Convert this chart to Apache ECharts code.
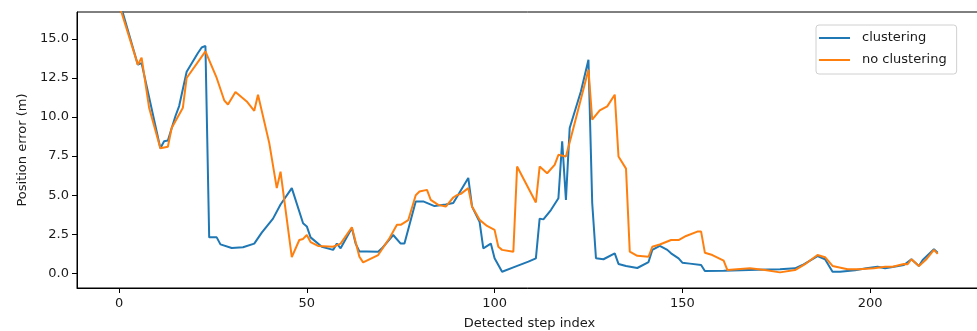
<!DOCTYPE html>
<html>
<head>
<meta charset="utf-8">
<script src="https://cdn.jsdelivr.net/npm/echarts@6/dist/echarts.min.js"></script>
<style>
  html, body { margin: 0; padding: 0; background: #fff; }
  #main { width: 977px; height: 331px; }
</style>
</head>
<body>
<div id="main"></div>
<script>
// step index / position error (m) at the line's corners
var clusterSteps = [0, 5, 6, 11, 12, 13, 15, 16, 18, 21, 22, 23, 24, 26, 27, 30, 33, 36, 38, 41, 43, 46, 49, 50, 51, 54, 57, 58, 59, 62, 63, 64, 66, 69, 70, 73, 75, 76, 79, 81, 84, 87, 89, 93, 94, 96, 97, 99, 100, 102, 105, 109, 111, 112, 113, 115, 117, 118, 119, 120, 123, 125, 126, 127, 129, 132, 133, 135, 138, 141, 142, 144, 146, 147, 149, 150, 152, 155, 156, 161, 170, 176, 180, 182, 186, 188, 190, 192, 196, 199, 202, 204, 206, 209, 211, 213, 214, 217, 218];
var clusterErr = [17.5, 13.35, 13.45, 8.0, 8.45, 8.5, 10.05, 10.7, 12.9, 14.1, 14.45, 14.55, 2.3, 2.3, 1.85, 1.62, 1.67, 1.9, 2.6, 3.5, 4.4, 5.45, 3.2, 3.0, 2.3, 1.7, 1.5, 1.9, 1.6, 2.9, 1.9, 1.4, 1.4, 1.38, 1.6, 2.45, 1.9, 1.9, 4.6, 4.6, 4.3, 4.4, 4.5, 6.1, 4.27, 3.3, 1.6, 1.9, 0.96, 0.1, 0.38, 0.75, 0.96, 3.5, 3.45, 4.05, 4.8, 8.44, 4.7, 9.3, 11.65, 13.67, 4.5, 0.96, 0.9, 1.28, 0.6, 0.47, 0.34, 0.72, 1.5, 1.75, 1.5, 1.28, 0.96, 0.68, 0.62, 0.53, 0.15, 0.17, 0.22, 0.26, 0.32, 0.53, 1.1, 0.9, 0.1, 0.1, 0.2, 0.32, 0.42, 0.32, 0.4, 0.53, 0.9, 0.47, 0.85, 1.54, 1.32];

var noClusterSteps = [0, 5, 6, 8, 11, 13, 14, 17, 18, 23, 26, 28, 29, 31, 34, 36, 37, 40, 42, 43, 46, 48, 49, 50, 51, 53, 57, 59, 62, 64, 65, 69, 72, 74, 75, 77, 79, 80, 82, 83, 85, 87, 89, 90, 91, 93, 94, 96, 98, 100, 101, 102, 105, 106, 111, 112, 114, 116, 117, 119, 121, 125, 126, 128, 130, 132, 133, 135, 136, 138, 141, 142, 144, 147, 149, 151, 154, 155, 156, 158, 161, 162, 168, 172, 176, 180, 183, 186, 188, 190, 194, 197, 201, 204, 206, 209, 210, 211, 213, 215, 217, 218];
var noClusterErr = [17.2, 13.35, 13.8, 10.6, 8.0, 8.1, 9.3, 10.6, 12.5, 14.2, 12.5, 11.07, 10.8, 11.6, 11.0, 10.4, 11.43, 8.33, 5.45, 6.5, 1.03, 2.13, 2.2, 2.45, 2.0, 1.75, 1.7, 1.9, 2.95, 1.06, 0.7, 1.17, 2.24, 3.1, 3.1, 3.4, 5.0, 5.23, 5.34, 4.7, 4.38, 4.27, 4.85, 5.0, 5.08, 5.45, 4.27, 3.42, 3.03, 2.78, 1.7, 1.5, 1.38, 6.83, 4.53, 6.83, 6.4, 6.94, 7.58, 7.47, 9.3, 13.03, 9.83, 10.42, 10.68, 11.43, 7.47, 6.7, 1.38, 1.12, 1.06, 1.7, 1.84, 2.13, 2.13, 2.39, 2.67, 2.67, 1.32, 1.17, 0.81, 0.21, 0.32, 0.21, 0.06, 0.21, 0.64, 1.17, 1.03, 0.47, 0.26, 0.26, 0.32, 0.42, 0.42, 0.6, 0.58, 0.9, 0.47, 0.9, 1.5, 1.24];

var xTicks = [0, 50, 100, 150, 200];
var yTicks = [0, 2.5, 5, 7.5, 10, 12.5, 15];

function pairs(xs, ys) {
    var out = [];
    for (var i = 0; i < xs.length; i++) {
        out.push([xs[i], ys[i]]);
    }
    return out;
}

var myChart = echarts.init(document.getElementById('main'));
var fontFamily = 'DejaVu Sans';
var textColor = '#1a1a1a';

var option = {
    backgroundColor: '#ffffff',
    animation: false,
    textStyle: { fontFamily: fontFamily },
    grid: {
        left: 77,
        top: 12,
        width: 905,
        height: 276,
        outerBoundsMode: 'none',
        containLabel: false,
        show: true,
        borderColor: '#000',
        borderWidth: 1
    },
    legend: {
        orient: 'vertical',
        left: 816,
        top: 25,
        padding: [6, 10, 7, 3],
        icon: 'rect',
        itemWidth: 31,
        itemHeight: 2,
        itemGap: 8,
        backgroundColor: '#fff',
        borderColor: '#d0d0d0',
        borderWidth: 1,
        borderRadius: 3,
        textStyle: {
            fontFamily: fontFamily,
            fontSize: 13,
            lineHeight: 14,
            color: textColor,
            padding: [0, 0, 0, 7]
        },
        data: ['clustering', 'no clustering']
    },
    xAxis: {
        type: 'value',
        min: -11.2,
        max: 229.8,
        name: 'Detected step index',
        nameLocation: 'middle',
        nameGap: 29,
        nameTextStyle: { fontFamily: fontFamily, fontSize: 13, color: textColor },
        axisLine: { show: true, onZero: false, lineStyle: { color: '#000', width: 1 } },
        axisTick: { show: true, length: 5, lineStyle: { color: '#000' }, customValues: xTicks },
        axisLabel: {
            margin: 9,
            fontFamily: fontFamily,
            fontSize: 13,
            color: textColor,
            customValues: xTicks
        },
        splitLine: { show: false }
    },
    yAxis: {
        type: 'value',
        min: -0.94,
        max: 16.72,
        name: 'Position error (m)',
        nameLocation: 'middle',
        nameGap: 47,
        nameTextStyle: { fontFamily: fontFamily, fontSize: 13, color: textColor },
        axisLine: { show: true, onZero: false, lineStyle: { color: '#000', width: 1 } },
        axisTick: { show: true, length: 5, lineStyle: { color: '#000' }, customValues: yTicks },
        axisLabel: {
            margin: 8,
            fontFamily: fontFamily,
            fontSize: 13,
            color: textColor,
            customValues: yTicks,
            formatter: function (v) { return v.toFixed(1); }
        },
        splitLine: { show: false }
    },
    series: [{
        name: 'clustering',
        type: 'line',
        symbol: 'none',
        clip: true,
        lineStyle: { color: '#1f77b4', width: 2 },
        itemStyle: { color: '#1f77b4' },
        data: pairs(clusterSteps, clusterErr)
    }, {
        name: 'no clustering',
        type: 'line',
        symbol: 'none',
        clip: true,
        lineStyle: { color: '#ff7f0e', width: 2 },
        itemStyle: { color: '#ff7f0e' },
        data: pairs(noClusterSteps, noClusterErr)
    }]
};

myChart.setOption(option);
</script>
</body>
</html>
